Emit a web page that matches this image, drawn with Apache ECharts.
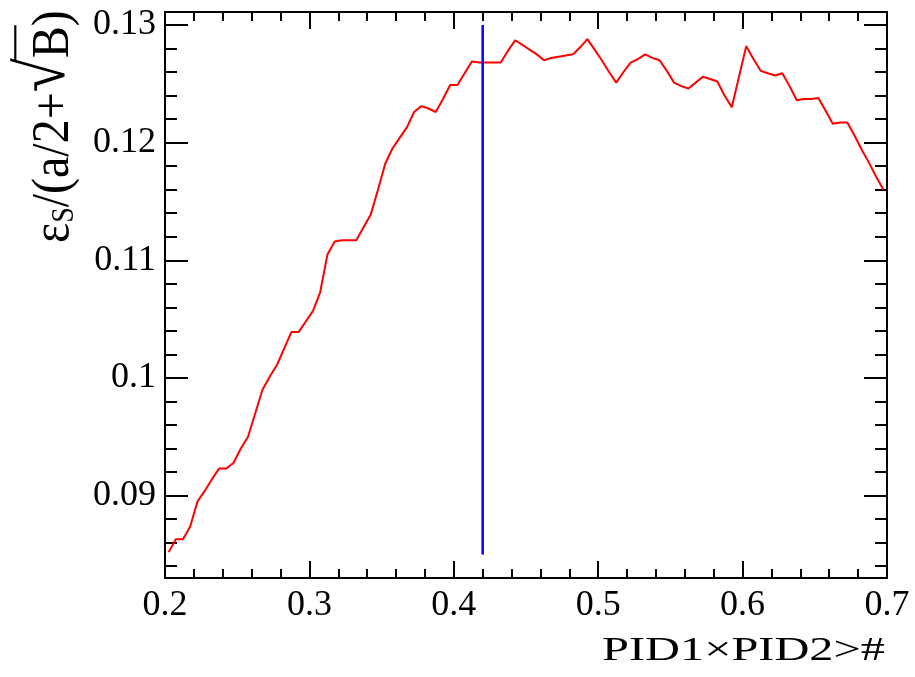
<!DOCTYPE html>
<html>
<head>
<meta charset="utf-8">
<title>Significance vs PID cut</title>
<script src="https://cdn.jsdelivr.net/npm/echarts@6/dist/echarts.min.js"></script>
<style>
  html, body { margin: 0; padding: 0; background: #ffffff; }
  #chart { width: 915px; height: 677px; }
</style>
</head>
<body>
<div id="chart"></div>
<script>
// PID1×PID2 cut values (bin centres, step 0.005)
const cutStart = 0.2025;
const cutStep = 0.005;
// Figure of merit εS/(a/2+√B) for each cut
const merit = [
  0.0852, 0.0863, 0.0863, 0.0874, 0.0895, 0.0904, 0.0914, 0.0923, 0.0923, 0.0928,
  0.0940, 0.0950, 0.0970, 0.0990, 0.1001, 0.1011, 0.1025, 0.1039, 0.1039, 0.1048,
  0.1057, 0.1073, 0.1105, 0.1116, 0.1117, 0.1117, 0.1117, 0.1128, 0.1139, 0.1160,
  0.1182, 0.1195, 0.1204, 0.1213, 0.1226, 0.1231, 0.1229, 0.1226, 0.1237, 0.1249,
  0.1249, 0.1259, 0.1269, 0.1268, 0.1268, 0.1268, 0.1268, 0.1278, 0.1287, 0.1283,
  0.1279, 0.1275, 0.1270, 0.1272, 0.1273, 0.1274, 0.1275, 0.1281, 0.1288, 0.1279,
  0.1270, 0.1260, 0.1251, 0.1260, 0.1268, 0.1271, 0.1275, 0.1272, 0.1270, 0.1261,
  0.1251, 0.1248, 0.1246, 0.1251, 0.1256, 0.1254, 0.1252, 0.1240, 0.1230, 0.1256,
  0.1282, 0.1271, 0.1261, 0.1259, 0.1257, 0.1259, 0.1248, 0.1236, 0.1237, 0.1237,
  0.1238, 0.1227, 0.1216, 0.1217, 0.1217, 0.1206, 0.1194, 0.1183, 0.1171, 0.1160
];
// Chosen cut marker
const chosenCut = 0.42;
const markerRange = [0.085, 0.13];

// Axis ranges and tick values
const xRange = [0.2, 0.7];
const yRange = [0.0830, 0.1311];
const xMajor = [0.2, 0.3, 0.4, 0.5, 0.6, 0.7];
const yMajor = [0.09, 0.10, 0.11, 0.12, 0.13];
const xMinorStep = 0.02;
const yMinorStep = 0.002;

// Axis titles
const xTitle = 'PID1×PID2>#';
const yTitleParts = ['ε', 'S', '/(a/2+', '√', 'B', ')'];

function minorValues(lo, hi, step, majors) {
  const out = [];
  const n0 = Math.ceil(lo / step - 1e-9);
  const n1 = Math.floor(hi / step + 1e-9);
  for (let n = n0; n <= n1; n++) {
    const v = +(n * step).toFixed(6);
    if (!majors.some(m => Math.abs(m - v) < 1e-9)) out.push(v);
  }
  return out;
}
const xMinor = minorValues(xRange[0], xRange[1], xMinorStep, xMajor);
const yMinor = minorValues(yRange[0], yRange[1], yMinorStep, yMajor);

const curve = merit.map((v, i) => [+(cutStart + i * cutStep).toFixed(4), v]);
const marker = markerRange.map(v => [chosenCut, v]);

const FONT = '"Liberation Serif", "DejaVu Serif", serif';
const INK = '#000000';
const TICK_FONT = 36;

function fmt(v) {
  return String(+v.toFixed(2));
}

function xAxisDef(position, ticks, len, labels) {
  return {
    type: 'value', position: position, min: xRange[0], max: xRange[1],
    axisLine: { show: true, onZero: false, lineStyle: { color: INK, width: 2 } },
    axisTick: { show: true, inside: true, length: len, customValues: ticks, lineStyle: { color: INK, width: 2 } },
    axisLabel: labels ? {
      show: true, customValues: ticks, formatter: fmt, margin: 10,
      fontFamily: FONT, fontSize: TICK_FONT, color: INK
    } : { show: false },
    splitLine: { show: false }
  };
}
function yAxisDef(position, ticks, len, labels) {
  return {
    type: 'value', position: position, min: yRange[0], max: yRange[1],
    axisLine: { show: true, onZero: false, lineStyle: { color: INK, width: 2 } },
    axisTick: { show: true, inside: true, length: len, customValues: ticks, lineStyle: { color: INK, width: 2 } },
    axisLabel: labels ? {
      show: true, customValues: ticks, formatter: fmt, margin: 9,
      fontFamily: FONT, fontSize: TICK_FONT, color: INK
    } : { show: false },
    splitLine: { show: false }
  };
}

// Text measurement for the title layout
const measureCtx = document.createElement('canvas').getContext('2d');
function textWidth(str, size) {
  measureCtx.font = size + 'px ' + FONT;
  return measureCtx.measureText(str).width;
}

// x title: right-aligned under the axis, widened to the frame's text width
const X_TITLE_SIZE = 34;
const xTitleWidth = 283;
const xTitleScale = xTitleWidth / textWidth(xTitle, X_TITLE_SIZE);

// y title: rotated, reading upward from the bottom
const Y_TITLE_SIZE = 48;
const Y_SUB_SIZE = 28;
const Y_ROOT_SIZE = 62;
const wLead = textWidth(yTitleParts[0], Y_TITLE_SIZE) + textWidth(yTitleParts[1], Y_SUB_SIZE)
  + textWidth(yTitleParts[2], Y_TITLE_SIZE) + textWidth(yTitleParts[3], Y_ROOT_SIZE);
const wB = textWidth(yTitleParts[4], Y_TITLE_SIZE);
const OVERLINE_Y = 3;

const chart = echarts.init(document.getElementById('chart'), null, { renderer: 'canvas' });

chart.setOption({
  backgroundColor: '#ffffff',
  animation: false,
  grid: { left: 165, right: 28, top: 12, bottom: 99, containLabel: false },
  xAxis: [
    xAxisDef('bottom', xMajor, 17, true),
    xAxisDef('bottom', xMinor, 9, false),
    xAxisDef('top', xMajor, 17, false),
    xAxisDef('top', xMinor, 9, false)
  ],
  yAxis: [
    yAxisDef('left', yMajor, 23, true),
    yAxisDef('left', yMinor, 12, false),
    yAxisDef('right', yMajor, 23, false),
    yAxisDef('right', yMinor, 12, false)
  ],
  series: [
    {
      name: 'merit', type: 'line', xAxisIndex: 0, yAxisIndex: 0,
      data: curve, showSymbol: false, symbol: 'none',
      lineStyle: { color: '#ff0000', width: 2 }, z: 3
    },
    {
      name: 'cut', type: 'line', xAxisIndex: 0, yAxisIndex: 0,
      data: marker, showSymbol: false, symbol: 'none',
      lineStyle: { color: '#0000ff', width: 2.5 }, z: 4
    }
  ],
  graphic: [
    {
      type: 'text', x: 885, y: 634, scaleX: xTitleScale, originX: 0, originY: 0,
      style: {
        text: xTitle, fontFamily: FONT, fontSize: X_TITLE_SIZE, fontWeight: 'normal',
        fill: INK, align: 'right', verticalAlign: 'top'
      }
    },
    {
      type: 'group', x: 12, y: 243, rotation: Math.PI / 2, scaleY: 1.1,
      children: [
        {
          type: 'text', x: 0, y: 0,
          style: {
            text: '{m|' + yTitleParts[0] + '}{s|' + yTitleParts[1] + '}{m|' + yTitleParts[2]
              + '}{r|' + yTitleParts[3] + '}{m|' + yTitleParts[4] + yTitleParts[5] + '}',
            fontFamily: FONT, fontSize: Y_TITLE_SIZE, fontWeight: 'normal',
            fill: INK, align: 'left', verticalAlign: 'top',
            rich: {
              m: { fontFamily: FONT, fontSize: Y_TITLE_SIZE, fontWeight: 'normal', fill: INK, verticalAlign: 'bottom' },
              r: { fontFamily: FONT, fontSize: Y_ROOT_SIZE, fontWeight: 'normal', fill: INK, verticalAlign: 'bottom' },
              s: { fontFamily: FONT, fontSize: Y_SUB_SIZE, fontWeight: 'normal', fill: INK, verticalAlign: 'bottom' }
            }
          }
        },
        {
          // overline of the square root spanning B
          type: 'line',
          shape: { x1: wLead - 3, y1: OVERLINE_Y, x2: wLead + wB + 1, y2: OVERLINE_Y },
          style: { stroke: INK, lineWidth: 2 }
        }
      ]
    }
  ]
});
</script>
</body>
</html>
